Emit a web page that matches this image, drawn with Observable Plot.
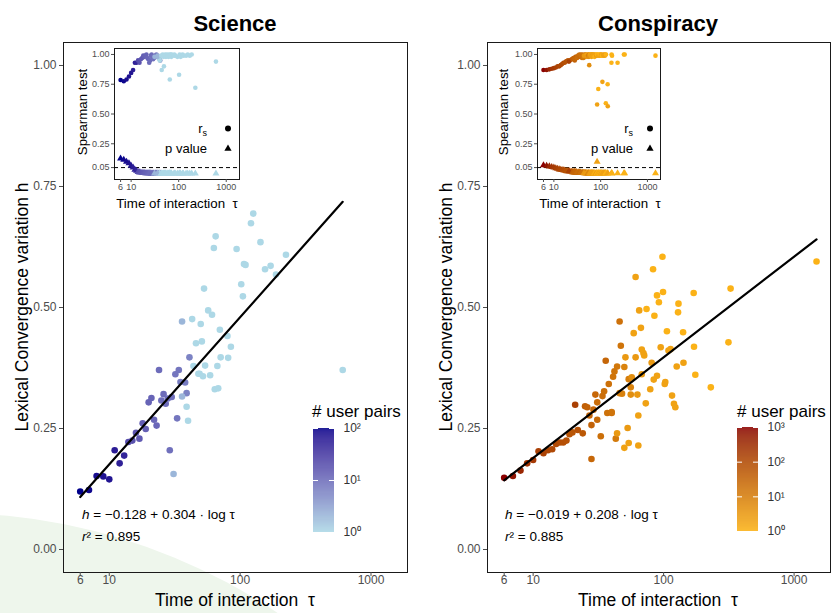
<!DOCTYPE html>
<html><head><meta charset="utf-8">
<script src="https://cdn.jsdelivr.net/npm/d3@7"></script>
<script src="https://cdn.jsdelivr.net/npm/@observablehq/plot@0.6"></script>
<style>
body{margin:0;background:#fff;}
#wrap{position:relative;width:833px;height:613px;overflow:hidden;background:#fff;font-family:"Liberation Sans",Arial,sans-serif;}
#wrap > *{position:absolute;}
.blob{left:-637px;top:513px;width:1174px;height:1174px;border-radius:50%;background:#eef6ec;}
</style></head><body><div id="wrap"><div class="blob"></div></div>
<script>
// ---------- shared axes ----------
const xTicks = [6, 10, 100, 1000];
const yTicks = [0, 0.25, 0.5, 0.75, 1];
const insetYTicks = [0.05, 0.25, 0.5, 0.75, 1];
const pThreshold = [0.05];
const xDomain = [4.47, 1901];
const yDomain = [-0.0475, 1.0475];
const insetYDomain = [-0.05, 1.05];

// ---------- Science ----------
const sciTau = [6,7,8,9,10,11,12,13,
  14,15,16,17,18,19,20,21,22,23,25,26,27,28,30,24,29,32,33,34,35,38,39,41,
  31,36,39,40,36,43,44,46,50,51,48,49,52,53,54,57,59,61,63,65,64,68,67,70,71,80,81,85,94,102,105,107,110,121,126,143,155,171,188,224,608];
const sciH = [0.120,0.123,0.152,0.151,0.145,0.205,0.178,0.194,
  0.222,0.225,0.241,0.229,0.261,0.249,0.304,0.313,0.268,0.256,0.308,0.321,0.301,0.312,0.315,0.371,0.205,0.362,0.271,0.371,0.346,0.345,0.323,0.397,
  0.156,0.316,0.295,0.266,0.471,0.476,0.379,0.426,0.466,0.430,0.363,0.363,0.358,0.539,0.380,0.494,0.360,0.485,0.623,0.647,0.331,0.333,0.379,0.454,0.397,0.441,0.396,0.419,0.621,0.548,0.523,0.590,0.588,0.674,0.694,0.635,0.579,0.586,0.568,0.609,0.371];
const sciN = [100,90,80,75,70,60,55,50,
  20,18,16,15,14,13,12,12,11,11,10,10,10,9,9,10,9,8,8,8,7,7,6,6,
  2,2,1,1,2,1,1,1,1,1, 1,1,1,1,1,1,1,1,1,1, 1,1,1,1,1,1,1,1,1,1, 1,1,1,1,1,1,1,1,1,1, 1];
const sciRs = [0.785,0.775,0.79,0.815,0.845,0.87,0.93,0.93,
  0.95,0.93,0.96,0.97,0.99,0.98,0.99,1.0,0.97,0.96,0.95,0.99,1.0,0.98,0.97,0.93,0.96,0.99,0.98,1.0,0.99,0.97,0.98,0.95,
  0.98,0.99,0.96,0.95,0.98,0.99,0.87,1.0,0.99,0.99, 0.98,0.90,1.0,0.99,0.98,1.0,0.99,0.98,1.0,0.79,
  0.99,1.0,0.99,0.98,1.0,0.99,1.0,0.99,0.98,0.83, 1.0,0.99,0.98,1.0,0.99,0.99,1.0,0.99,1.0,0.72, 0.94];
const sciP = [0.126,0.115,0.099,0.087,0.065,0.051,0.032,0.024,
  0.014,0.010,0.008,0.006,0.005,0.004,0.003,0.003,0.002,0.002,0.002,0.001,0.001,0.001,0.001,0.002,0.001,0.001,0.001,0.001,0.001,0.001,0.001,0.001,
  0.001,0.001,0.001,0.001,0.001,0.001,0.001,0.001,0.001,0.001, 0.001,0.001,0.001,0.001,0.001,0.001,0.001,0.001,0.001,0.002,
  0.001,0.001,0.001,0.001,0.001,0.001,0.001,0.001,0.001,0.001, 0.001,0.001,0.001,0.001,0.001,0.001,0.001,0.001,0.001,0.001, 0.001];
const sciFit = [-0.128, 0.304];
const sciR2 = "0.895";
const sciColors = ["#add8e6", "#00008b"];
const sciLegendTicks = [1, 10, 100];

// ---------- Conspiracy ----------
const conTau = [6,7,8,9,10,11,12,13,14,15,16,17,18,19,20,22,24,21,25,26,28,27,29,28,31,33,30,31,34,35,36,37,38,40,40,41,42,44,46,47,43,46,48,50,
  44,50,51,53,54,54,56,56,57,59,61,61,63,64,64,65,67,68,68,70,71,73,74,79,81,83,84,85,89,89,92,95,98,99,102,103,106,109,113,116,120,123,126,129,130,141,142,170,171,175,230,314,326,1486];
const conH = [0.148,0.152,0.163,0.178,0.185,0.203,0.199,0.205,0.207,0.218,0.221,0.221,0.225,0.238,0.242,0.247,0.240,0.299,0.296,0.294,0.257,0.277,0.289,0.187,0.268,0.234,0.320,0.304,0.317,0.327,0.390,0.282,0.342,0.282,0.284,0.357,0.368,0.378,0.471,0.421,0.229,0.323,0.322,0.377,
  0.240,0.210,0.397,0.251,0.220,0.352,0.335,0.320,0.356,0.447,0.397,0.563,0.320,0.215,0.277,0.494,0.458,0.362,0.413,0.406,0.401,0.302,0.497,0.331,0.386,0.579,0.351,0.483,0.525,0.359,0.511,0.418,0.605,0.532,0.342,0.346,0.451,0.411,0.414,0.318,0.301,0.294,0.378,0.490,0.508,0.449,0.386,0.530,0.419,0.361,0.335,0.428,0.539,0.595];
const conN = [1000,700,400,250,200,160,140,120,110,100,90,80,70,65,60,70,55,150,40,35,35,30,28,28,25,20,28,22,22,20,30,18,18,18,16,16,16,14,18,16,12,10,9,8,
  3,2,3,3,2,10,8,5,5,2, 3,2,3,2,2,2,2,3,2,2, 2,2,1,2,3,1,2,1,1,2, 1,2,1,1,2,2,1,2,2,2, 2,2,2,1,1,1,2,1,1,1, 1,1,1,1];
const conRs = [0.87,0.87,0.875,0.88,0.885,0.89,0.90,0.90,0.91,0.92,0.93,0.93,0.94,0.945,0.95,0.95,0.96,0.94,0.96,0.97,0.95,0.97,0.98,0.96,0.97,0.99,0.98,0.97,0.99,1.0,0.98,0.99,1.0,0.97,0.99,1.0,0.98,0.99,1.0,0.99,0.97,0.98,1.0,0.99,
  0.99,1.0,0.98,0.99,1.0,0.99,1.0,0.98,0.91,1.0, 0.99,1.0,0.99,1.0,0.98,1.0,0.99,1.0,0.99,1.0,
  0.99,1.0,0.98,1.0,0.99,1.0,0.58,1.0,0.71,0.99, 1.0,0.99,1.0,1.0,0.99,1.0,0.99,0.77,1.0,0.99,
  1.0,0.99,1.0,0.59,1.0,0.75,0.565,0.93,1.0,0.99, 0.93,1.0,1.0,0.99];
const conP = [0.07,0.065,0.06,0.055,0.05,0.045,0.04,0.035,0.032,0.03,0.028,0.025,0.022,0.02,0.02,0.018,0.015,0.02,0.012,0.012,0.015,0.01,0.01,0.012,0.01,0.008,0.01,0.008,0.008,0.006,0.01,0.006,0.006,0.005,0.005,0.005,0.005,0.004,0.004,0.004,0.004,0.003,0.003,0.003,
  0.002,0.002,0.002,0.002,0.002,0.002,0.002,0.002,0.002,0.002, 0.002,0.002,0.002,0.002,0.002,0.002,0.002,0.002,0.002,0.002,
  0.002,0.002,0.002,0.002,0.002,0.002,0.099,0.002,0.002,0.002, 0.002,0.002,0.002,0.002,0.002,0.002,0.002,0.002,0.002,0.002,
  0.002,0.002,0.002,0.002,0.002,0.002,0.002,0.002,0.002,0.002, 0.002,0.002,0.002,0.002];
const conFit = [-0.019, 0.208];
const conR2 = "0.885";
const conColors = ["#fbb217", "#8b0000"];
const conLegendTicks = [1, 10, 100, 1000];

// ---------- helpers ----------
const FONT = '"Liberation Sans", Arial, sans-serif';
const sup = ["\u2070", "\u00b9", "\u00b2", "\u00b3"];
const rows = (tau, h, n, rs, p) => tau.map((t, i) => ({tau: t, h: h[i], n: n[i], rs: rs[i], p: p[i]}));
const colorOf = (max, range) => ({type: "log", domain: [1, max], range, interpolate: "lab"});
const wrap = document.getElementById("wrap");
function place(el, left, top) { el.style.left = left + "px"; el.style.top = top + "px"; wrap.appendChild(el); }

function xLabels(fontSize, dy) {
  return Plot.text(xTicks, {x: d => d, text: d => String(d), frameAnchor: "bottom", dy, fill: "#4d4d4d", fontSize});
}

function mainPanel(data, fit, color, width, marginRight) {
  const ext = d3.extent(data, d => d.tau);
  const fitLine = ext.map(t => ({tau: t, h: fit[0] + fit[1] * Math.log10(t)}));
  return Plot.plot({
    width, height: 613, marginLeft: 63, marginRight, marginTop: 42, marginBottom: 41,
    x: {type: "log", domain: xDomain}, y: {domain: yDomain}, color,
    style: {background: "transparent", color: "#4d4d4d", fontFamily: FONT, fontSize: "12px", maxWidth: "none"},
    marks: [
      Plot.frame({stroke: "#1a1a1a"}),
      Plot.axisX({ticks: xTicks, tickFormat: () => "", tickSize: 4, label: null}),
      xLabels(12, 11),
      Plot.axisY({ticks: yTicks, tickFormat: d3.format(".2f"), tickSize: 4, tickPadding: 3, fontSize: 12, label: null}),
      Plot.dot(data, {x: "tau", y: "h", fill: "n", r: 3.3}),
      Plot.line(fitLine, {x: "tau", y: "h", stroke: "black", strokeWidth: 2.2})
    ]
  });
}

function insetPanel(data, color, width, marginRight) {
  return Plot.plot({
    width, height: 170, marginLeft: 42, marginRight, marginTop: 4, marginBottom: 35,
    x: {type: "log", domain: xDomain}, y: {domain: insetYDomain}, color,
    style: {background: "white", color: "#4d4d4d", fontFamily: FONT, fontSize: "9px", maxWidth: "none"},
    marks: [
      Plot.frame({stroke: "#1a1a1a"}),
      Plot.axisX({ticks: xTicks, tickFormat: () => "", tickSize: 3, label: null}),
      xLabels(9, 10),
      Plot.axisY({ticks: insetYTicks, tickFormat: d3.format(".2f"), tickSize: 3, tickPadding: 2, fontSize: 9, label: null}),
      Plot.ruleY(pThreshold, {stroke: "black", strokeDasharray: "4,3"}),
      Plot.dot(data, {x: "tau", y: "p", fill: "n", symbol: "triangle", r: 2.6}),
      Plot.dot(data, {x: "tau", y: "rs", fill: "n", r: 2.3})
    ]
  });
}

function legendBar(max, color, ticks) {
  const k = Math.log10(max);
  const stops = d3.range(0, 101).map(i => 10 ** (k * i / 100));
  const bins = stops.slice(0, -1).map((v, i) => ({y1: v, y2: stops[i + 1], v: Math.sqrt(v * stops[i + 1])}));
  return Plot.plot({
    width: 62, height: 120, marginLeft: 0, marginRight: 41, marginTop: 8, marginBottom: 8,
    y: {type: "log", domain: [1, max]}, color,
    style: {background: "transparent", color: "#333", fontFamily: FONT, fontSize: "12px", maxWidth: "none"},
    marks: [
      Plot.rect(bins, {y1: "y1", y2: "y2", fill: "v", fillOpacity: 0.88, shapeRendering: "crispEdges"}),
      Plot.tickY(ticks, {y: d => d, stroke: "white", strokeWidth: 1, insetRight: 16}),
      Plot.tickY(ticks, {y: d => d, stroke: "white", strokeWidth: 1, insetLeft: 16}),
      Plot.axisY({anchor: "right", ticks, tickFormat: d => "10" + sup[Math.round(Math.log10(d))], tickSize: 0, tickPadding: 9, fontSize: 12, label: null})
    ]
  });
}

const sciData = rows(sciTau, sciH, sciN, sciRs, sciP);
const conData = rows(conTau, conH, conN, conRs, conP);
const sciColor = colorOf(100, sciColors);
const conColor = colorOf(1000, conColors);

place(mainPanel(sciData, sciFit, sciColor, 420, 13), 0, 0);
place(mainPanel(conData, conFit, conColor, 409, 3), 424, 0);
place(insetPanel(sciData, sciColor, 176, 9), 72, 44);
place(insetPanel(conData, conColor, 175, 10), 495, 44);
place(legendBar(100, sciColor, sciLegendTicks), 313, 420);
place(legendBar(1000, conColor, conLegendTicks), 737, 419);

// ---------- text overlay ----------
function eq(x, fit, r2) {
  const a = fit[0] < 0 ? "\u2212" + Math.abs(fit[0]).toFixed(3) : fit[0].toFixed(3);
  return `<text x="${x}" y="519" font-size="13.5"><tspan font-style="italic">h</tspan> = ${a} + ${fit[1].toFixed(3)} \u00b7 log \u03c4</text>
  <text x="${x}" y="541" font-size="13.5"><tspan font-style="italic">r</tspan>\u00b2 = ${r2}</text>`;
}
function insetLegend(xEnd, xSym) {
  return `<text x="${xEnd}" y="133" font-size="13" text-anchor="end">r<tspan font-size="9" dy="3">s</tspan></text>
  <circle cx="${xSym}" cy="128.5" r="3" fill="black"/>
  <text x="${xEnd}" y="152.5" font-size="13" text-anchor="end">p value</text>
  <path d="M${xSym},${144.5} l3.6,6.2 h-7.2 z" fill="black"/>`;
}
const svgNS = "http://www.w3.org/2000/svg";
const ov = document.createElementNS(svgNS, "svg");
ov.setAttribute("width", 833); ov.setAttribute("height", 613);
ov.style.pointerEvents = "none";
ov.innerHTML = `<g font-family='${FONT}' fill="black">
  <text x="235" y="31" font-size="22" font-weight="bold" text-anchor="middle">Science</text>
  <text x="658" y="31" font-size="22" font-weight="bold" text-anchor="middle">Conspiracy</text>
  <text x="235" y="606" font-size="17.5" text-anchor="middle" xml:space="preserve">Time of interaction  \u03c4</text>
  <text x="658" y="606" font-size="17.5" text-anchor="middle" xml:space="preserve">Time of interaction  \u03c4</text>
  <text transform="translate(28,307) rotate(-90)" font-size="17.5" text-anchor="middle">Lexical Convergence variation h</text>
  <text transform="translate(452,307) rotate(-90)" font-size="17.5" text-anchor="middle">Lexical Convergence variation h</text>
  <text x="177" y="208" font-size="13.3" text-anchor="middle" xml:space="preserve">Time of interaction  \u03c4</text>
  <text x="600" y="208" font-size="13.3" text-anchor="middle" xml:space="preserve">Time of interaction  \u03c4</text>
  <text transform="translate(87,112) rotate(-90)" font-size="13.3" text-anchor="middle">Spearman test</text>
  <text transform="translate(508,112) rotate(-90)" font-size="13.3" text-anchor="middle">Spearman test</text>
  ${insetLegend(207, 228)}
  ${insetLegend(633, 650)}
  ${eq(82, sciFit, sciR2)}
  ${eq(505, conFit, conR2)}
  <text x="312" y="417" font-size="17">&#35; user pairs</text>
  <text x="737" y="417" font-size="17">&#35; user pairs</text>
</g>`;
place(ov, 0, 0);
</script></body></html>
